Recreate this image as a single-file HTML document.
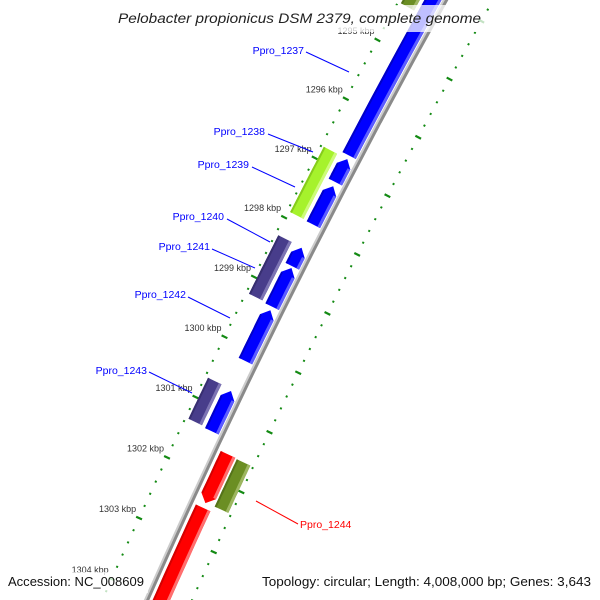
<!DOCTYPE html>
<html><head><meta charset="utf-8"><style>
html,body{margin:0;padding:0;background:#fff;width:600px;height:600px;overflow:hidden;}
svg{display:block;overflow:hidden;font-family:"Liberation Sans",sans-serif;}
</style></head><body>
<svg id="map" width="600" height="600" viewBox="0 0 600 600" xmlns="http://www.w3.org/2000/svg">
<g id="layer"></g>
</svg>
<script>
// ---- data (kbp positions) ----
const forwardRow1Starts = [1293.0, 1296.79, 1297.25, 1298.29, 1298.63, 1299.34, 1300.69];
const forwardRow1Ends   = [1296.73, 1297.18, 1297.90, 1298.60, 1299.28, 1300.19, 1301.36];
const forwardRow2Starts = [1292.5, 1296.79, 1298.28, 1300.66];
const forwardRow2Ends   = [1294.35, 1297.89, 1299.26, 1301.34];
const forwardRow2Colors = ['olive', 'lime', 'purple', 'purple'];
const reverseRow1Starts = [1301.57, 1302.46];
const reverseRow1Ends   = [1302.38, 1306.0];
const reverseRow2Starts = [1301.58];
const reverseRow2Ends   = [1302.37];
const tickLabelsKbp = [1295, 1296, 1297, 1298, 1299, 1300, 1301, 1302, 1303, 1304];
const geneNames = ['Ppro_1237','Ppro_1238','Ppro_1239','Ppro_1240','Ppro_1241','Ppro_1242','Ppro_1243','Ppro_1244'];

// ---- geometry ----
const NS = 'http://www.w3.org/2000/svg';
const CX = 7010, CY = 3645, R = 7508;
const A0 = Math.atan2(158 - CY, 315 - CX);
const RATE = -66.8 / 7549;
function polar(k, o) {
  const a = A0 + (k - 1297) * RATE, r = R + o;
  return [CX + r * Math.cos(a), CY + r * Math.sin(a)];
}
const layer = document.getElementById('layer');
function mk(tag, attrs) {
  const e = document.createElementNS(NS, tag);
  for (const k in attrs) e.setAttribute(k, attrs[k]);
  layer.appendChild(e);
  return e;
}
function arcPts(k1, k2, o) {
  const pts = [], n = 12;
  for (let i = 0; i <= n; i++) pts.push(polar(k1 + (k2 - k1) * i / n, o));
  return pts;
}
function shape(k1, k2, o1, o2, arrow) {
  const h = 8 / 66.8;
  let pts = [];
  const mid = (o1 + o2) / 2;
  if (arrow === 'start') {
    pts.push(polar(k1, mid));
    pts = pts.concat(arcPts(k1 + h, k2, o2), arcPts(k1 + h, k2, o1).reverse());
  } else if (arrow === 'end') {
    pts = pts.concat(arcPts(k1, k2 - h, o2));
    pts.push(polar(k2, mid));
    pts = pts.concat(arcPts(k1, k2 - h, o1).reverse());
  } else {
    pts = pts.concat(arcPts(k1, k2, o2), arcPts(k1, k2, o1).reverse());
  }
  return pts.map(p => p[0].toFixed(1) + ',' + p[1].toFixed(1)).join(' ');
}
const palette = {
  blue: ['#0000ff', '#5c5cff', '#0000c8'],
  lime: ['#a6f22c', '#cdfb7a', '#86cc1c'],
  purple: ['#483d8b', '#7d74b4', '#372e70'],
  olive: ['#6b8e23', '#9db660', '#55731a'],
  red: ['#ff0000', '#ff6f6f', '#d40000']
};
function feature(k1, k2, o1, o2, arrow, col, name) {
  const c = palette[col];
  const g = mk('polygon', { points: shape(k1, k2, o1, o2, arrow), fill: c[0] });
  
  
  const h = 8 / 66.8;
  const a1 = arrow === 'start' ? k1 + h : k1, a2 = arrow === 'end' ? k2 - h : k2;
  const band = mk('polygon', { points: shape(a1, a2, o1, o1 + 3, 'none'), fill: c[1] });
  
  
  const dark = mk('polygon', { points: shape(a1, a2, o2 - 2, o2, 'none'), fill: c[2] });
  
  
}

// backbone
const bb1 = mk('circle', { cx: CX, cy: CY, r: R + 2, fill: 'none', stroke: '#cccccc', 'stroke-width': 2 });


const bb2 = mk('circle', { cx: CX, cy: CY, r: R - 0.5, fill: 'none', stroke: '#8a8a8a', 'stroke-width': 3 });



// ladders
for (let i = 0; i <= 70; i++) {
  const k = 1292 + i * 0.2;
  const major = Math.abs(k - Math.round(k)) < 1e-6;
  [41, -41].forEach(o => {
    const len = major ? 3.2 : 1;
    const p1 = polar(k, o - len), p2 = polar(k, o + len);
    const t = mk('line', { x1: p1[0], y1: p1[1], x2: p2[0], y2: p2[1], stroke: '#138a13', 'stroke-width': major ? 2.2 : 2 });
    
    
  });
}
tickLabelsKbp.forEach(k => {
  const p = polar(k, 41);
  const t = mk('text', { x: (p[0] - 3).toFixed(1), y: (p[1] - 6).toFixed(1), 'text-anchor': 'end', 'font-size': 9, fill: '#333' });
  t.textContent = k + ' kbp';
  
  
});

// features
forwardRow1Starts.forEach((s, i) => feature(s, forwardRow1Ends[i], 4, 19, 'start', 'blue', 'forward-gene-' + i));
forwardRow2Starts.forEach((s, i) => feature(s, forwardRow2Ends[i], 23, 38, 'none', forwardRow2Colors[i], 'forward-row2-gene-' + i));
reverseRow1Starts.forEach((s, i) => feature(s, reverseRow1Ends[i], -21, -5, i === 0 ? 'end' : 'none', 'red', 'reverse-gene-' + i));
reverseRow2Starts.forEach((s, i) => feature(s, reverseRow2Ends[i], -38, -23, 'none', 'olive', 'reverse-row2-gene-' + i));

// gene labels
const labelX = [304, 265, 249, 224, 210, 186, 147, 300];
const labelY = [54, 135, 168, 220, 250, 298, 374, 528];
const lineEnds = [[306,52,349,72],[268,134,313,152],[252,167,295,187],[227,219,270,242],[212,249,255,268],[188,297,230,318],[149,372,192,393],[256,501,298,524]];
geneNames.forEach((n, i) => {
  const red = i === 7;
  const col = red ? '#ff0000' : '#0000ff';
  const l = lineEnds[i];
  const ln = mk('line', { x1: l[0], y1: l[1], x2: l[2], y2: l[3], stroke: col, 'stroke-width': 1 });
  
  
  const t = mk('text', { x: labelX[i], y: labelY[i], 'text-anchor': red ? 'start' : 'end', 'font-size': 10.5, fill: col });
  t.textContent = n;
  
  
});

// title and footer boxes
function box(x, y, w, h, name) {
  const r = mk('rect', { x: x, y: y, width: w, height: h, fill: '#fff', 'fill-opacity': 0.75 });
  
  
}
box(110, 5, 376, 27, 'title-background');
box(4, 572, 144, 21, 'accession-background');
box(258, 572, 337, 21, 'topology-background');
function txt(x, y, s, size, attrs, name, len) {
  const t = mk('text', Object.assign({ x: x, y: y, 'font-size': size, fill: '#111' }, attrs));
  if (len) { t.setAttribute('textLength', len); t.setAttribute('lengthAdjust', 'spacingAndGlyphs'); }
  t.textContent = s;
  
  
}
txt(118, 23, 'Pelobacter propionicus DSM 2379, complete genome', 14, { 'font-style': 'italic', fill: '#222' }, 'chart-title', 363);
txt(8, 586, 'Accession: NC_008609', 13, {}, 'accession-text', 136);
txt(262, 586, 'Topology: circular; Length: 4,008,000 bp; Genes: 3,643', 13, {}, 'topology-text', 329);
</script>
</body></html>
